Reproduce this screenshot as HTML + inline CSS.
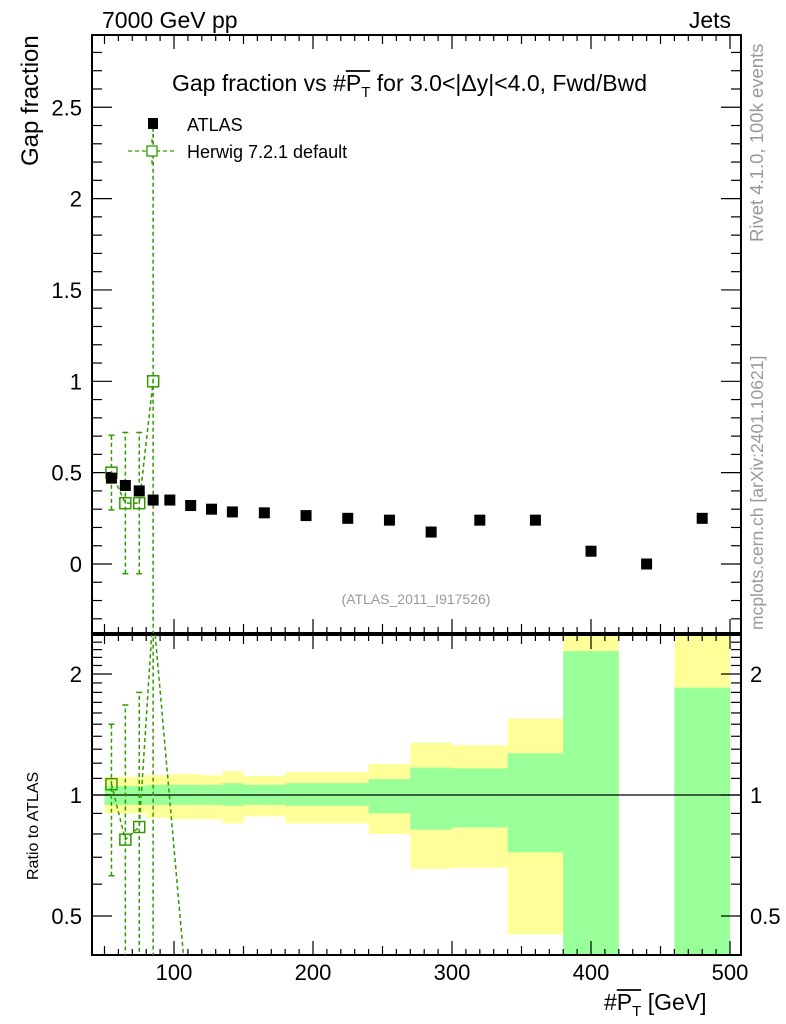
<!DOCTYPE html>
<html><head><meta charset="utf-8"><style>
html,body{margin:0;padding:0;background:#fff;overflow:hidden;width:786px;height:1024px;}
svg{display:block;font-family:"Liberation Sans",sans-serif;}
</style></head><body>
<svg id="c" width="786" height="1024" xmlns="http://www.w3.org/2000/svg"></svg>
<script>
const atlasX=[55,65,75,85,97,112,127,142,165,195,225,255,285,320,360,400,440,480];
const atlasY=[0.47,0.43,0.40,0.35,0.35,0.32,0.30,0.285,0.28,0.265,0.25,0.24,0.175,0.24,0.24,0.07,0.0,0.25];
const herwigX=[55,65,75,85];
const herwigY=[0.5,0.333,0.333,1.0];
const herwigLo=[0.296,-0.053,-0.053,-1.0];
const herwigHi=[0.705,0.72,0.72,2.4];
const binEdges=[50,80,97,120,135,150,180,240,270,300,340,380,420,460,500];
const yelHi=[1.11,1.12,1.127,1.12,1.147,1.115,1.14,1.195,1.35,1.33,1.55,3,null,3];
const grnHi=[1.053,1.06,1.06,1.06,1.07,1.06,1.07,1.095,1.17,1.165,1.27,2.28,null,1.85];
const grnLo=[0.945,0.945,0.945,0.945,0.94,0.945,0.94,0.9,0.82,0.83,0.72,0.1,null,0.1];
const yelLo=[0.9,0.877,0.87,0.87,0.85,0.885,0.85,0.8,0.655,0.66,0.45,0.1,null,0.1];
const xTicks=[100,200,300,400,500];
const mainTicks=[0,0.5,1,1.5,2,2.5];
const ratioTicks=[0.5,1,2];

const L=92,R=741,T=35,MB=633,RT=635,RB=955;
const X=v=>35+v*1.39;
const Y=v=>564-v*182.7;
const RY=r=>795-121*Math.log2(r);
const svg=document.getElementById('c');
const NS='http://www.w3.org/2000/svg';
function el(t,a,p){const e=document.createElementNS(NS,t);for(const k in a)e.setAttribute(k,a[k]);(p||svg).appendChild(e);return e;}
function txt(s,a,p){const e=el('text',a,p);e.textContent=s;return e;}

const defs=el('defs',{});
const c1=el('clipPath',{id:'cm'},defs);el('rect',{x:L,y:T,width:R-L,height:MB-T},c1);
const c2=el('clipPath',{id:'cr'},defs);el('rect',{x:L,y:RT,width:R-L,height:RB-RT},c2);

const bands=el('g',{'clip-path':'url(#cr)'});


for(let i=0;i<binEdges.length-1;i++){
  if(yelHi[i]==null)continue;
  const x0=X(binEdges[i]),x1=X(binEdges[i+1]);
  const y=el('rect',{x:x0,y:RY(yelHi[i]),width:x1-x0,height:RY(yelLo[i])-RY(yelHi[i]),fill:'#ffff99'},bands);
  
  
  const g=el('rect',{x:x0,y:RY(grnHi[i]),width:x1-x0,height:RY(grnLo[i])-RY(grnHi[i]),fill:'#99ff99'},bands);
  
  
}
el('line',{x1:L,x2:R,y1:RY(1),y2:RY(1),stroke:'#000','stroke-width':1.3});

el('rect',{x:L,y:T,width:R-L,height:MB-T,fill:'none',stroke:'#000','stroke-width':2});
el('rect',{x:L,y:RT,width:R-L,height:RB-RT,fill:'none',stroke:'#000','stroke-width':2});

for(let v=50;v<=500;v+=10){
  const x=X(v);const len=v%100==0?14:(v%50==0?9:6);
  for(const [a,b] of [[T,1],[MB,-1],[RT,1],[RB,-1]]) el('line',{x1:x,x2:x,y1:a,y2:a+b*len,stroke:'#000','stroke-width':1.2});
}
xTicks.forEach(v=>{const t=txt(String(v),{x:X(v),y:980,'font-size':22,'text-anchor':'middle'});
});
for(let k=-3;k<=28;k++){const v=k/10,y=Y(v);const len=k%5==0?20:10;
  el('line',{x1:L,x2:L+len,y1:y,y2:y,stroke:'#000','stroke-width':1.2});
  el('line',{x1:R,x2:R-len,y1:y,y2:y,stroke:'#000','stroke-width':1.2});}
mainTicks.forEach(v=>{const t=txt(String(v),{x:82,y:Y(v)+8,'font-size':22,'text-anchor':'end'});
});
for(let k=4;k<=25;k++){const r=k/10;const y=RY(r);if(y<RT||y>RB)continue;
  const len=(k==5||k==10||k==20)?20:10;
  el('line',{x1:L,x2:L+len,y1:y,y2:y,stroke:'#000','stroke-width':1.2});
  el('line',{x1:R,x2:R-len,y1:y,y2:y,stroke:'#000','stroke-width':1.2});}
ratioTicks.forEach(v=>{
 const t=txt(String(v),{x:82,y:RY(v)+8,'font-size':22,'text-anchor':'end'});
 
 const t2=txt(String(v),{x:750,y:RY(v)+8,'font-size':22,'text-anchor':'start'});
 });

const hg=el('g',{'clip-path':'url(#cm)',stroke:'#339900',fill:'none','stroke-width':1.5,'stroke-dasharray':'4,3'});


el('polyline',{points:herwigX.map((x,i)=>X(x)+','+Y(herwigY[i])).join(' ')},hg);
herwigX.forEach((x,i)=>{
  el('line',{x1:X(x),x2:X(x),y1:Y(herwigLo[i]),y2:Y(herwigHi[i])},hg);
  el('line',{x1:X(x)-3,x2:X(x)+3,y1:Y(herwigHi[i]),y2:Y(herwigHi[i]),'stroke-dasharray':'none'},hg);
  el('line',{x1:X(x)-3,x2:X(x)+3,y1:Y(herwigLo[i]),y2:Y(herwigLo[i]),'stroke-dasharray':'none'},hg);
  const m=el('rect',{x:X(x)-5.5,y:Y(herwigY[i])-5.5,width:11,height:11,'stroke-dasharray':'none',fill:'none'},hg);
  
  
});
atlasX.forEach((x,i)=>{const m=el('rect',{x:X(x)-5.5,y:Y(atlasY[i])-5.5,width:11,height:11,fill:'#000'});
});

const rg=el('g',{'clip-path':'url(#cr)',stroke:'#339900',fill:'none','stroke-width':1.5,'stroke-dasharray':'4,3'});


const rpts=herwigX.map((x,i)=>[X(x),RY(herwigY[i]/atlasY[i])]);
rpts.push([X(112),RY(0.25)]);
el('polyline',{points:rpts.map(p=>p.join(',')).join(' ')},rg);
herwigX.forEach((x,i)=>{
  const lo=Math.max(herwigLo[i],0.001)/atlasY[i],hi=herwigHi[i]/atlasY[i];
  el('line',{x1:X(x),x2:X(x),y1:RY(lo),y2:RY(hi)},rg);
  el('line',{x1:X(x)-3,x2:X(x)+3,y1:RY(hi),y2:RY(hi),'stroke-dasharray':'none'},rg);
  el('line',{x1:X(x)-3,x2:X(x)+3,y1:RY(lo),y2:RY(lo),'stroke-dasharray':'none'},rg);
  el('rect',{x:X(x)-5.5,y:RY(herwigY[i]/atlasY[i])-5.5,width:11,height:11,'stroke-dasharray':'none'},rg);
});

function lab(s,a,n){const t=txt(s,a);return t;}
lab('7000 GeV pp',{x:102,y:28,'font-size':23},'energy-label');
lab('Jets',{x:731,y:28,'font-size':23,'text-anchor':'end'},'process-label');
lab('Gap fraction',{x:0,y:0,'font-size':24,transform:'translate(38,166) rotate(-90)'},'y-axis-title');
lab('Ratio to ATLAS',{x:0,y:0,'font-size':16,transform:'translate(38,880) rotate(-90)'},'ratio-axis-title');
const title=lab('',{x:172,y:91,'font-size':23},'plot-title');
title.innerHTML='Gap fraction vs #<tspan id="tp">P</tspan><tspan font-size="15" dy="6">T</tspan><tspan dy="-6"> for 3.0&lt;|Δy|&lt;4.0, Fwd/Bwd</tspan>';
const xt=lab('',{x:604,y:1010,'font-size':23},'x-axis-title');
xt.innerHTML='#<tspan id="xp">P</tspan><tspan font-size="15" dy="6">T</tspan><tspan dy="-6"> [GeV]</tspan>';
function over(id){const t=document.getElementById(id);const b=t.getBBox();
 el('line',{x1:b.x,x2:b.x+b.width+9,y1:b.y+1,y2:b.y+1,stroke:'#000','stroke-width':1.8});}
over('tp');over('xp');
lab('(ATLAS_2011_I917526)',{x:416,y:604,'font-size':14,fill:'#999','text-anchor':'middle'},'analysis-id');
lab('Rivet 4.1.0,  100k events',{x:0,y:0,'font-size':18.5,fill:'#999',transform:'translate(763,242) rotate(-90)'},'rivet-label');
lab('mcplots.cern.ch [arXiv:2401.10621]',{x:0,y:0,'font-size':17.5,fill:'#999',transform:'translate(763,630) rotate(-90)'},'mcplots-label');
const lg=el('g',{});
el('rect',{x:148,y:118,width:10,height:11,fill:'#000'},lg);
el('line',{x1:153,x2:153,y1:129,y2:139,stroke:'#339900','stroke-dasharray':'3,2','stroke-width':1.3},lg);
txt('ATLAS',{x:187,y:131,'font-size':18},lg);
el('line',{x1:128,x2:176,y1:151,y2:151,stroke:'#339900','stroke-dasharray':'4,3','stroke-width':1.3},lg);
el('line',{x1:152,x2:152,y1:139,y2:165,stroke:'#339900','stroke-dasharray':'4,3','stroke-width':1.3},lg);
el('rect',{x:147,y:146,width:10,height:10,fill:'#fff',stroke:'#339900','stroke-width':1.3},lg);
txt('Herwig 7.2.1 default',{x:187,y:158,'font-size':18},lg);
</script>
</body></html>
